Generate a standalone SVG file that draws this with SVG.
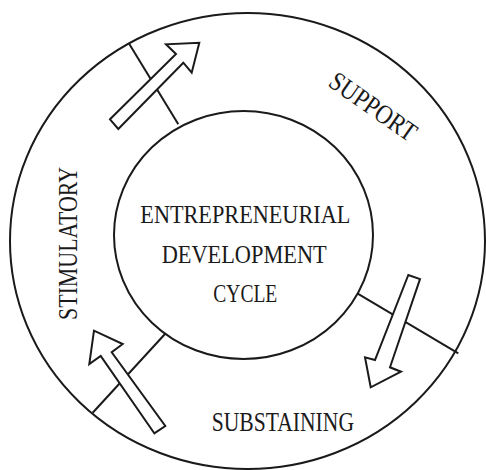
<svg xmlns="http://www.w3.org/2000/svg" width="486" height="470" viewBox="0 0 486 470">
  <style>
    .ring { fill: none; stroke: #1a1a1a; stroke-width: 2; }
    .divider { fill: none; stroke: #1a1a1a; stroke-width: 2; }
    .arrow { fill: #ffffff; stroke: #1a1a1a; stroke-width: 2; stroke-linejoin: miter; }
    .label { font-family: "Liberation Serif", "Times New Roman", serif; fill: #1a1a1a; font-size: 27px; }
    .core { font-family: "Liberation Serif", "Times New Roman", serif; fill: #1a1a1a; font-size: 26px; text-anchor: middle; }
  </style>
  <rect x="0" y="0" width="486" height="470" fill="#ffffff"/>

  <!-- outer ring -->
  <g id="outer-ring">
    <ellipse class="ring" cx="247.5" cy="241" rx="237.5" ry="228"/>
  </g>

  <!-- centre node -->
  <g id="cycle-core">
    <ellipse class="ring" cx="243.5" cy="235" rx="129.5" ry="124"/>
    <text class="core" x="245.3" y="223.3" textLength="210" lengthAdjust="spacingAndGlyphs">ENTREPRENEURIAL</text>
    <text class="core" x="244.2" y="262.7" textLength="165" lengthAdjust="spacingAndGlyphs">DEVELOPMENT</text>
    <text class="core" x="245.3" y="301.7" textLength="64" lengthAdjust="spacingAndGlyphs">CYCLE</text>
  </g>

  <!-- stage labels -->
  <g id="stage-stimulatory">
    <text class="label" style="font-size:28px" transform="translate(77.3,320) rotate(-90)" x="0" y="0" textLength="153" lengthAdjust="spacingAndGlyphs">STIMULATORY</text>
  </g>
  <g id="stage-support">
    <text class="label" transform="translate(368,114) rotate(35)" x="0" y="0" text-anchor="middle" textLength="100" lengthAdjust="spacingAndGlyphs">SUPPORT</text>
  </g>
  <g id="stage-substaining">
    <text class="label" x="211.7" y="430.7" textLength="142.3" lengthAdjust="spacingAndGlyphs">SUBSTAINING</text>
  </g>

  <!-- dividers and flow arrows -->
  <g id="connectors">
    <line class="divider" x1="129.3" y1="44" x2="178.3" y2="124.3"/>
    <line class="divider" x1="357.3" y1="293.3" x2="458.3" y2="353.3"/>
    <line class="divider" x1="165" y1="334" x2="92.7" y2="412.7"/>

    <polygon class="arrow" points="110,119.3 176,54 166,44.3 199.3,42.7 191.7,72.7 183.3,62.7 118.3,129"/>
    <polygon class="arrow" points="408.3,275 375,360 365,357.3 370.7,387.3 401,371.7 390,367.3 420,279"/>
    <polygon class="arrow" points="154.3,433.3 100.7,356 89.3,364 94,330.7 122.7,344 111.7,352.3 165.3,426"/>
  </g>
</svg>
